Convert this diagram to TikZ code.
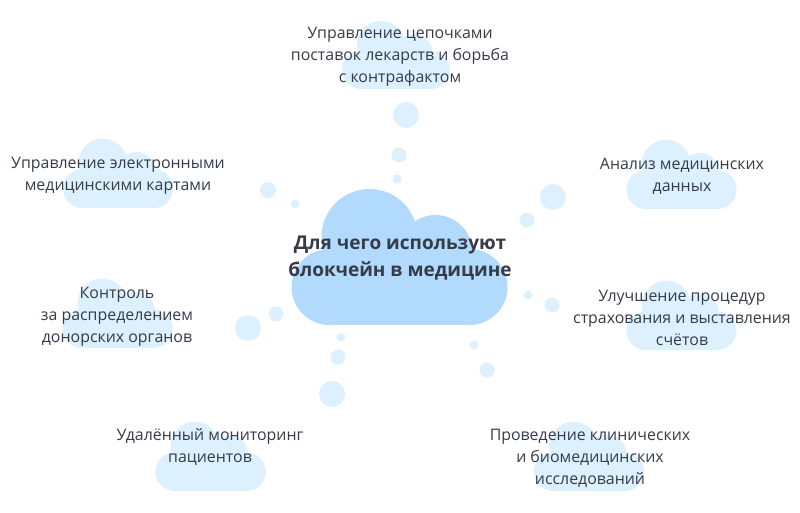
\documentclass[tikz,border=0pt]{standalone}
\usepackage{fontspec}
\setmainfont{Open Sans}
\usepackage{tikz}

\definecolor{cloudmain}{HTML}{B1DAFC}
\definecolor{cloudpale}{HTML}{DDF0FE}
\definecolor{textdark}{HTML}{353C48}

\tikzset{
  pics/cloudpic/.style={code={
    \fill[pic actions] (-70,-38) circle (38);
    \fill[pic actions] (70,-38) circle (38);
    \fill[pic actions] (-70,0) rectangle (70,-76);
    \fill[pic actions] (-30,-88) circle (48);
    \fill[pic actions] (36,-73) circle (37);
  }},
  label/.style={text=textdark, align=center, inner sep=0pt,
    font=\fontsize{15.9}{21.8}\selectfont},
  title/.style={text=textdark, align=center, inner sep=0pt,
    font=\fontsize{19}{27}\selectfont\bfseries},
  bubble/.style={fill=cloudpale}
}

\begin{document}
\begin{tikzpicture}[x=1pt, y=-1pt]
        \useasboundingbox (0,0) rectangle (800,512);

        % Draw clouds
        \pic[fill=cloudmain] (mid) at (399.5,325) {cloudpic};
        \pic[fill=cloudpale, scale=0.5] (top) at (396,89) {cloudpic};
        \pic[fill=cloudpale, scale=0.51] (ul) at (118,208) {cloudpic};
        \pic[fill=cloudpale, scale=0.51] (ur) at (681.5,209) {cloudpic};
        \pic[fill=cloudpale, scale=0.51] (ll) at (117.5,348) {cloudpic};
        \pic[fill=cloudpale, scale=0.51] (lr) at (681.5,350) {cloudpic};
        \pic[fill=cloudpale, scale=0.51] (bl) at (210.5,491) {cloudpic};
        \pic[fill=cloudpale, scale=0.51] (br) at (589,491) {cloudpic};

        % Draw bubbles
        \fill[bubble] (406,115) circle (13);
        \fill[bubble] (399,155) circle (7.5);
        \fill[bubble] (397,179) circle (4.5);
        \fill[bubble] (268,190) circle (8);
        \fill[bubble] (295,204) circle (4.5);
        \fill[bubble] (553,197) circle (13);
        \fill[bubble] (527,220) circle (7.5);
        \fill[bubble] (248,328) circle (13);
        \fill[bubble] (276,314) circle (7.5);
        \fill[bubble] (528,295) circle (4.5);
        \fill[bubble] (552,305) circle (7.5);
        \fill[bubble] (341,337) circle (4.5);
        \fill[bubble] (338,357) circle (7.5);
        \fill[bubble] (332,394) circle (13);
        \fill[bubble] (474,345) circle (4.5);
        \fill[bubble] (487,370) circle (7.5);

        % Draw texts
        \node[title] (center) at (400,258) {Для чего используют\\блокчейн в медицине};
        \node[label] (chain) at (400,57) {Управление цепочками\\поставок лекарств и борьба\\с контрафактом};
        \node[label] (cards) at (118,176) {Управление электронными\\медицинскими картами};
        \node[label] (data) at (682,176) {Анализ медицинских\\данных};
        \node[label] (organs) at (117,317) {Контроль\\за распределением\\донорских органов};
        \node[label] (insure) at (682,318) {Улучшение процедур\\страхования и выставления\\счётов};
        \node[label] (remote) at (210,447) {Удалённый мониторинг\\пациентов};
        \node[label] (trials) at (590,458) {Проведение клинических\\и биомедицинских\\исследований};
      \end{tikzpicture}
\end{document}
